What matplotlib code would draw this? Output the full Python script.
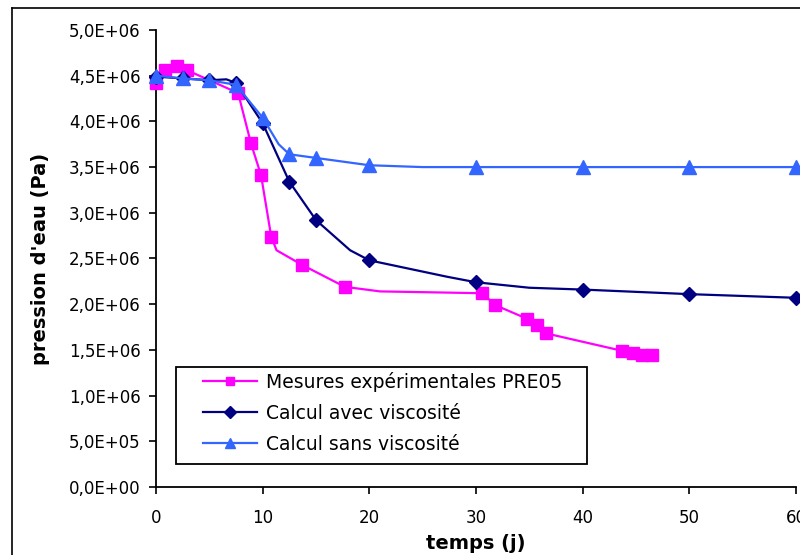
import matplotlib
matplotlib.use("Agg")
import matplotlib.pyplot as plt
from matplotlib.ticker import FuncFormatter
from matplotlib.lines import Line2D
from matplotlib.patches import Rectangle

# Mesures expérimentales PRE05
t_mes = [0, 0.85, 2.0, 2.9, 7.7, 8.9, 9.85, 10.8, 11.3, 13.7, 17.7, 21.0,
         30.6, 31.8, 34.8, 35.7, 36.6, 43.7, 44.7, 45.6, 46.5]
p_mes = [4.42e6, 4.56e6, 4.61e6, 4.56e6, 4.31e6, 3.76e6, 3.41e6, 2.74e6, 2.59e6,
         2.43e6, 2.19e6, 2.14e6, 2.12e6, 1.99e6, 1.84e6, 1.77e6, 1.68e6,
         1.49e6, 1.47e6, 1.44e6, 1.44e6]
mk_mes = [0, 1, 2, 3, 4, 5, 6, 7, 9, 10, 12, 13, 14, 15, 16, 17, 18, 19, 20]

# Calcul avec viscosité
t_avec = [0, 2.5, 5, 6.6, 7.5, 10, 12.5, 15, 18.2, 20, 27.3, 30, 35, 40, 50, 60]
p_avec = [4.49e6, 4.47e6, 4.45e6, 4.46e6, 4.42e6, 3.98e6, 3.34e6, 2.92e6, 2.59e6,
          2.48e6, 2.30e6, 2.24e6, 2.18e6, 2.16e6, 2.11e6, 2.07e6]
mk_avec = [0, 1, 2, 4, 5, 6, 7, 9, 11, 13, 14, 15]

# Calcul sans viscosité
t_sans = [0, 2.5, 5, 7.5, 10, 11.5, 12.5, 15, 20, 25, 30, 40, 50, 60]
p_sans = [4.50e6, 4.47e6, 4.45e6, 4.40e6, 4.04e6, 3.75e6, 3.64e6, 3.60e6, 3.52e6,
          3.50e6, 3.50e6, 3.50e6, 3.50e6, 3.50e6]
mk_sans = [0, 1, 2, 3, 4, 6, 7, 8, 10, 11, 12, 13]

x_ticks = [0, 10, 20, 30, 40, 50, 60]
y_ticks = [0, 5e5, 1e6, 1.5e6, 2e6, 2.5e6, 3e6, 3.5e6, 4e6, 4.5e6, 5e6]

plt.rcParams['font.family'] = ['DejaVu Sans']

fig = plt.figure(figsize=(8, 5.55), dpi=100)
ax = fig.add_axes([0.195, 0.1225, 0.8, 0.8235])

ax.plot(t_mes, p_mes, color='#FF00FF', lw=1.6, marker='s', ms=8.5,
        markevery=mk_mes, zorder=3, clip_on=False,
        label='Mesures expérimentales PRE05')
ax.plot(t_avec, p_avec, color='#000080', lw=1.6, marker='D', ms=7.5,
        markevery=mk_avec, zorder=4, clip_on=False,
        label='Calcul avec viscosité')
ax.plot(t_sans, p_sans, color='#3366FF', lw=1.6, marker='^', ms=10,
        markevery=mk_sans, zorder=5, clip_on=False,
        label='Calcul sans viscosité')

ax.set_xlim(0, 60)
ax.set_ylim(0, 5e6)
ax.set_xticks(x_ticks)
ax.set_yticks(y_ticks)
ax.yaxis.set_major_formatter(FuncFormatter(lambda v, p: f"{v:.1E}".replace('.', ',')))
ax.tick_params(axis='both', direction='out', length=5, width=1.2, labelsize=12)
ax.tick_params(axis='x', pad=11)
ax.tick_params(axis='y', pad=6)

for s in ['top', 'right']:
    ax.spines[s].set_visible(False)
for s in ['left', 'bottom']:
    ax.spines[s].set_linewidth(1.3)

ax.set_xlabel('temps (j)', fontsize=14, fontweight='bold', labelpad=5)
ax.set_ylabel("pression d'eau (Pa)", fontsize=14, fontweight='bold', labelpad=14)

# legend box drawn separately so its padding matches the Excel look
ax.add_patch(Rectangle((0.03125, 0.0503), 0.642, 0.2123, transform=ax.transAxes,
                       facecolor='white', edgecolor='black', lw=1.3, zorder=9,
                       clip_on=False))
leg = ax.legend(loc='upper left', bbox_to_anchor=(0.0734, 0.2516), borderaxespad=0,
                fontsize=13.5, frameon=False, handlelength=2.9, labelspacing=0.63,
                borderpad=0, handletextpad=0.45, markerscale=0.75)
leg.set_zorder(10)

# outer chart border (cropped on the right and bottom)
fig.add_artist(Line2D([12 / 800, 12 / 800], [0, 1 - 8 / 555], color='black', lw=1.2))
fig.add_artist(Line2D([12 / 800, 1], [1 - 8 / 555, 1 - 8 / 555], color='black', lw=1.2))

fig.savefig('out.png', dpi=100)
